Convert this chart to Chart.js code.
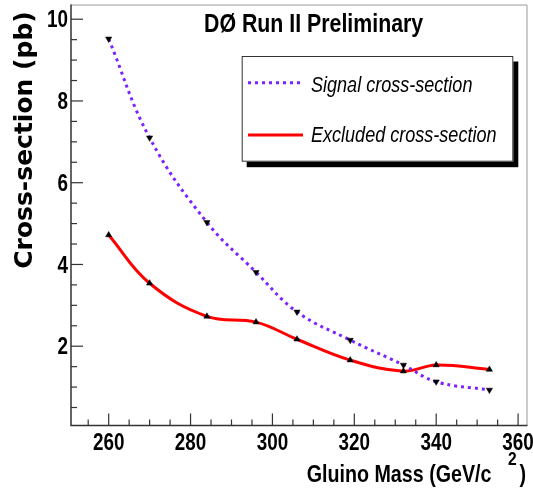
<!DOCTYPE html>
<html><head><meta charset="utf-8">
<script src="https://cdn.jsdelivr.net/npm/chart.js@4.4.0/dist/chart.umd.min.js"></script>
<style>html,body{margin:0;padding:0;background:#fff}#wrap{width:533px;height:491px;position:relative}</style>
</head><body><div id="wrap"><canvas id="c" width="533" height="491"></canvas></div>
<script>
const masses = [260, 270, 284, 296, 306, 319, 332, 340, 353];
const signalXsec = [9.52, 7.10, 5.03, 3.81, 2.84, 2.15, 1.54, 1.13, 0.93];
const excludedXsec = [4.72, 3.54, 2.73, 2.59, 2.17, 1.66, 1.39, 1.54, 1.43];
const xTickValues = [260, 280, 300, 320, 340, 360];
const yTickValues = [2, 4, 6, 8, 10];
const titleText = 'DØ Run II Preliminary';
const legendLabels = ['Signal cross-section', 'Excluded cross-section'];
const xAxisTitle = 'Gluino Mass (GeV/c';
const xAxisTitleSup = '2';
const xAxisTitleEnd = ')';
const yAxisTitle = 'Cross-section (pb)';

const SANS = '"Liberation Sans", Arial, sans-serif';
const NARROW_SCALE = 0.82;
const PURPLE = '#7b22ff';
const RED = '#ff0000';

function narrowText(ctx, text, x, y, font, align) {
  ctx.save();
  ctx.font = font;
  ctx.textAlign = align || 'left';
  ctx.textBaseline = 'alphabetic';
  ctx.translate(x, y);
  ctx.scale(NARROW_SCALE, 1);
  ctx.fillText(text, 0, 0);
  ctx.restore();
}

const decor = {
  id: 'decor',
  beforeDraw(chart) {
    const ctx = chart.ctx;
    ctx.save();
    ctx.fillStyle = '#ffffff';
    ctx.fillRect(0, 0, chart.width, chart.height);
    ctx.restore();
  },
  afterDraw(chart) {
    const { ctx, chartArea: { left, right, top, bottom }, scales: { x, y } } = chart;
    ctx.save();
    // frame
    ctx.strokeStyle = '#9a9a9a';
    ctx.lineWidth = 1;
    ctx.beginPath();
    ctx.moveTo(left, top + 0.5); ctx.lineTo(right - 0.5, top + 0.5); ctx.lineTo(right - 0.5, bottom);
    ctx.stroke();
    ctx.strokeStyle = '#333';
    ctx.lineWidth = 1.5;
    ctx.beginPath();
    ctx.moveTo(left, top); ctx.lineTo(left, bottom); ctx.lineTo(right, bottom);
    ctx.stroke();
    // ticks (inward)
    ctx.lineWidth = 1.2;
    for (let v = 255; v <= 360; v += 5) {
      const px = x.getPixelForValue(v);
      if (px < left || px > right) continue;
      const len = (v % 20 === 0) ? 12 : 6;
      ctx.beginPath(); ctx.moveTo(px, bottom); ctx.lineTo(px, bottom - len); ctx.stroke();
    }
    for (let v = 0.5; v <= 10.01; v += 0.5) {
      const py = y.getPixelForValue(v);
      if (py < top || py > bottom) continue;
      const len = (Math.abs(v % 2) < 1e-6) ? 12 : 6;
      ctx.beginPath(); ctx.moveTo(left, py); ctx.lineTo(left + len, py); ctx.stroke();
    }
    // tick labels
    ctx.fillStyle = '#000';
    const tickFont = 'bold 23px ' + SANS;
    xTickValues.forEach(v => narrowText(ctx, String(v), x.getPixelForValue(v), 450, tickFont, 'center'));
    yTickValues.forEach(v => narrowText(ctx, String(v), 68, y.getPixelForValue(v) + 8.2, tickFont, 'right'));
    // title
    narrowText(ctx, titleText, 204, 31.5, 'bold 26px ' + SANS, 'left');
    // legend
    const lx = 241.7, ly = 56, lw = 271.6, lh = 105.7;
    ctx.fillStyle = '#000';
    ctx.fillRect(lx + 5, ly + 5.5, lw, lh);
    ctx.fillStyle = '#fff';
    ctx.fillRect(lx, ly, lw, lh);
    ctx.strokeStyle = '#333';
    ctx.lineWidth = 1;
    ctx.strokeRect(lx + 0.5, ly + 0.5, lw - 1, lh - 1);
    ctx.lineWidth = 3;
    ctx.strokeStyle = PURPLE;
    ctx.setLineDash([3, 4]);
    ctx.beginPath(); ctx.moveTo(248, 82.7); ctx.lineTo(302, 82.7); ctx.stroke();
    ctx.setLineDash([]);
    ctx.strokeStyle = RED;
    ctx.beginPath(); ctx.moveTo(248, 135); ctx.lineTo(303, 135); ctx.stroke();
    ctx.fillStyle = '#000';
    narrowText(ctx, legendLabels[0], 311, 91.5, 'italic 22px ' + SANS, 'left');
    narrowText(ctx, legendLabels[1], 311, 141.5, 'italic 22px ' + SANS, 'left');
    // x title
    narrowText(ctx, xAxisTitle, 306.7, 481.5, 'bold 24px ' + SANS, 'left');
    narrowText(ctx, xAxisTitleEnd, 519.5, 481.5, 'bold 24px ' + SANS, 'left');
    narrowText(ctx, xAxisTitleSup, 508, 465, 'bold 19px ' + SANS, 'left');
    // y title
    ctx.save();
    ctx.translate(31.5, 140);
    ctx.rotate(-Math.PI / 2);
    ctx.textAlign = 'center';
    ctx.textBaseline = 'alphabetic';
    ctx.font = 'bold 25px "DejaVu Sans", sans-serif';
    ctx.fillText(yAxisTitle, 0, 0);
    ctx.restore();
    ctx.restore();
  }
};

new Chart(document.getElementById('c'), {
  type: 'line',
  data: {
    datasets: [
      {
        label: legendLabels[0],
        data: masses.map((m, i) => ({ x: m, y: signalXsec[i] })),
        borderColor: PURPLE,
        borderWidth: 3,
        borderDash: [3, 4],
        tension: 0.4,
        fill: false,
        pointStyle: 'triangle',
        rotation: 180,
        pointRadius: 3.6,
        pointBackgroundColor: '#000',
        pointBorderColor: '#000',
        pointBorderWidth: 0.5
      },
      {
        label: legendLabels[1],
        data: masses.map((m, i) => ({ x: m, y: excludedXsec[i] })),
        borderColor: RED,
        borderWidth: 3,
        tension: 0.4,
        fill: false,
        pointStyle: 'triangle',
        pointRadius: 3.6,
        pointBackgroundColor: '#000',
        pointBorderColor: '#000',
        pointBorderWidth: 0.5
      }
    ]
  },
  options: {
    responsive: false,
    animation: false,
    devicePixelRatio: 1,
    layout: { padding: { left: 0, right: 5.5, top: 3.5, bottom: 0 } },
    plugins: { legend: { display: false }, tooltip: { enabled: false }, title: { display: false } },
    scales: {
      x: {
        type: 'linear',
        min: 250.8,
        max: 362.3,
        border: { display: false },
        grid: { display: false, drawTicks: false },
        afterBuildTicks: (s) => { s.ticks = xTickValues.map(v => ({ value: v })); },
        afterFit: (s) => { s.height = 65.5; },
        ticks: { display: false }
      },
      y: {
        type: 'linear',
        min: 0.06,
        max: 10.36,
        border: { display: false },
        grid: { display: false, drawTicks: false },
        afterBuildTicks: (s) => { s.ticks = yTickValues.map(v => ({ value: v })); },
        afterFit: (s) => { s.width = 71; },
        ticks: { display: false }
      }
    }
  },
  plugins: [decor]
});
</script>
</body></html>
